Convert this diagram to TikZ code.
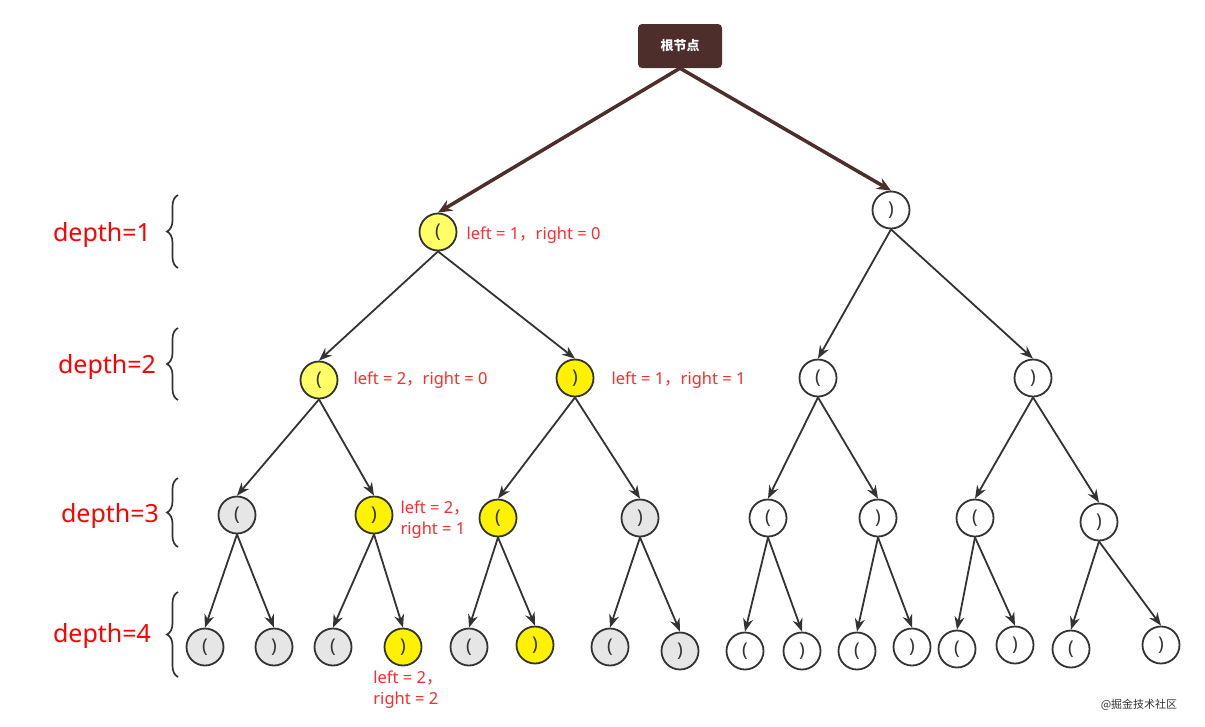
\documentclass[tikz,border=0pt]{standalone}
\usepackage{fontspec}
\setmainfont{Noto Sans}
\newfontfamily\cjk{Noto Sans CJK SC}
\usetikzlibrary{arrows.meta,decorations.pathreplacing}
\definecolor{rootbrown}{HTML}{4E2E2A}
\definecolor{edgegray}{HTML}{333333}
\definecolor{lblred}{HTML}{FF2A2A}
\definecolor{ltyellow}{HTML}{FFFF66}
\definecolor{ltgray}{HTML}{E6E6E6}
\newcommand{\fwc}{{\cjk ，}}
\tikzset{
    paren/.style={circle, draw=edgegray, line width=1.8pt, minimum size=37pt, inner sep=0pt, font=\fontsize{19}{19}\selectfont, text=edgegray},
    wnode/.style={paren, fill=white},
    ynode/.style={paren, fill=yellow},
    lynode/.style={paren, fill=ltyellow},
    gnode/.style={paren, fill=ltgray},
    edge/.style={draw=edgegray, line width=1.8pt, -{Stealth[length=13pt,width=10pt]}},
    rootedge/.style={draw=rootbrown, line width=3.5pt, -{Stealth[length=14pt,width=12pt]}},
    info/.style={text=lblred, font=\fontsize{16.5}{21}\selectfont},
    depthlbl/.style={text=red, font=\fontsize{25}{26}\selectfont},
    levelbrace/.style={draw=edgegray, line width=1.7pt, decorate, decoration={brace, amplitude=11pt}}
}
\begin{document}
\begin{tikzpicture}[x=1pt,y=-1pt]
    \useasboundingbox (0,0) rectangle (1205,726);
    % root
    \node[fill=rootbrown, rounded corners=4pt, minimum width=84pt, minimum height=44pt, text=white, font=\cjk\bfseries\fontsize{13}{13}\selectfont] (r) at (680,46) {根节点};
    % depth 1
    \node[lynode] (a1) at (438,232) {(};
    \node[wnode] (a2) at (891,210) {)};
    % depth 2
    \node[lynode] (b1) at (319,380) {(};
    \node[ynode] (b2) at (575,378) {)};
    \node[wnode] (b3) at (818,378) {(};
    \node[wnode] (b4) at (1033,378) {)};
    % depth 3
    \node[gnode] (c1) at (237,515) {(};
    \node[ynode] (c2) at (374,515) {)};
    \node[ynode] (c3) at (498,518) {(};
    \node[gnode] (c4) at (640,518) {)};
    \node[wnode] (c5) at (768,518) {(};
    \node[wnode] (c6) at (878,518) {)};
    \node[wnode] (c7) at (975,518) {(};
    \node[wnode] (c8) at (1099,522) {)};
    % depth 4
    \node[gnode] (d1) at (205,647) {(};
    \node[gnode] (d2) at (274,647) {)};
    \node[gnode] (d3) at (333,647) {(};
    \node[ynode] (d4) at (403,647) {)};
    \node[gnode] (d5) at (469,647) {(};
    \node[ynode] (d6) at (535,645) {)};
    \node[gnode] (d7) at (610,647) {(};
    \node[gnode] (d8) at (680,651) {)};
    \node[wnode] (d9) at (745,651) {(};
    \node[wnode] (d10) at (802,651) {)};
    \node[wnode] (d11) at (857,651) {(};
    \node[wnode] (d12) at (912,647) {)};
    \node[wnode] (d13) at (957,649) {(};
    \node[wnode] (d14) at (1015,645) {)};
    \node[wnode] (d15) at (1071,649) {(};
    \node[wnode] (d16) at (1161,645) {)};
    % edges
    \draw[rootedge] (r.south) -- (a1.north);
    \draw[rootedge] (r.south) -- (a2.north);
    \foreach \p/\c in {a1/b1,a1/b2,a2/b3,a2/b4,b1/c1,b1/c2,b2/c3,b2/c4,b3/c5,b3/c6,b4/c7,b4/c8}
        \draw[edge] (\p.south) -- (\c.north);
    \foreach \i in {1,...,8} {
        \pgfmathtruncatemacro\l{2*\i-1}
        \pgfmathtruncatemacro\m{2*\i}
        \draw[edge] (c\i.south) -- (d\l.north);
        \draw[edge] (c\i.south) -- (d\m.north);
    }
    % state labels
    \node[info, anchor=west] (i1) at (463,235) {left = 1\fwc right = 0};
    \node[info, anchor=west] (i2) at (350,380) {left = 2\fwc right = 0};
    \node[info, anchor=west] (i3) at (608,380) {left = 1\fwc right = 1};
    \node[info, anchor=west, align=left] (i4) at (397,520) {left = 2\fwc\\ right = 1};
    \node[info, align=left] (i5) at (408,690) {left = 2\fwc\\ right = 2};
    % depth braces
    \foreach \n/\t/\b/\lx/\ly in {1/195/268/102/235, 2/328/400/107/367, 3/478/547/110/516, 4/592/677/102/636} {
        \draw[levelbrace] (178,\b) -- (178,\t);
        \node[depthlbl] (dep\n) at (\lx,\ly) {depth=\n};
    }
    % watermark
    \node[text=edgegray, font=\cjk\fontsize{11}{11}\selectfont] (wm) at (1139,705) {@掘金技术社区};
\end{tikzpicture}
\end{document}
